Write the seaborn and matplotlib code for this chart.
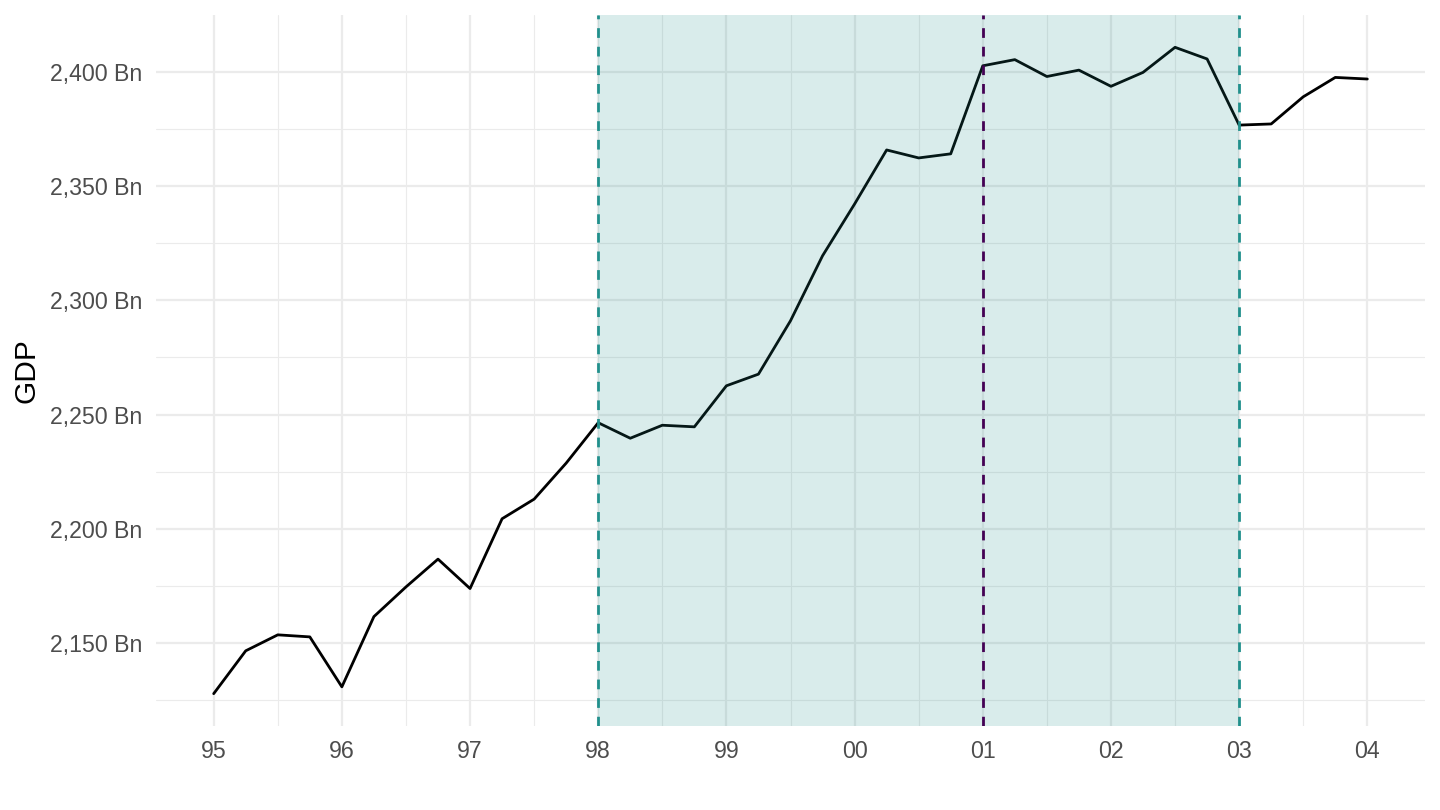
import matplotlib
matplotlib.use("Agg")
import matplotlib.pyplot as plt
import seaborn as sns
import pandas as pd
import numpy as np
from matplotlib.ticker import FixedLocator, FuncFormatter

# Quarterly GDP, 1995Q1 - 2004Q1 (billions)
quarters = [1995 + 0.25 * i for i in range(37)]
gdp = [2127.6, 2146.4, 2153.4, 2152.5, 2130.6, 2161.4, 2174.4, 2186.6,
       2173.7, 2204.3, 2212.9, 2228.7, 2246.4, 2239.6, 2245.3, 2244.6,
       2262.6, 2267.7, 2291.1, 2319.6, 2342.3, 2366.0, 2362.5, 2364.3,
       2402.9, 2405.6, 2398.2, 2401.0, 2393.9, 2400.0, 2411.0, 2405.9,
       2376.9, 2377.4, 2389.3, 2397.8, 2397.1]

shade_start, shade_end = 1998, 2003
vlines_x = [1998, 2001, 2003]
vlines_col = ["#21908C", "#440154", "#21908C"]

year_ticks = list(range(1995, 2005))
year_labels = [f"{y % 100:02d}" for y in year_ticks]
y_ticks = [2150, 2200, 2250, 2300, 2350, 2400]

df = pd.DataFrame({"date": quarters, "GDP": gdp})

sns.set_theme(style="whitegrid")
plt.rcParams["font.family"] = ["Liberation Sans", "DejaVu Sans"]

fig = plt.figure(figsize=(14.4, 8.1), dpi=100)
ax = fig.add_axes([156 / 1440, 84 / 810, (1425 - 156) / 1440, (726 - 15) / 810])
ax.set_facecolor("white")

sns.lineplot(data=df, x="date", y="GDP", color="black", linewidth=2.0, ax=ax, zorder=3)

ax.axvspan(shade_start, shade_end, color="#21908C", alpha=0.17, linewidth=0, zorder=4)
for xv, c in zip(vlines_x, vlines_col):
    ax.axvline(xv, color=c, linestyle=(0, (3.5, 3.2)), linewidth=2.0, zorder=5)

# limits with ggplot-like 5% expansion
xr = max(quarters) - min(quarters)
ax.set_xlim(min(quarters) - 0.05 * xr, max(quarters) + 0.05 * xr)
yr = max(gdp) - min(gdp)
ax.set_ylim(min(gdp) - 0.05 * yr, max(gdp) + 0.05 * yr)

ax.xaxis.set_major_locator(FixedLocator(year_ticks))
ax.set_xticklabels(year_labels)
ax.xaxis.set_minor_locator(FixedLocator([y + 0.5 for y in range(1995, 2004)]))
ax.yaxis.set_major_locator(FixedLocator(y_ticks))
ax.yaxis.set_major_formatter(FuncFormatter(lambda v, p: f"{v:,.0f} Bn"))
ax.yaxis.set_minor_locator(FixedLocator(list(range(2125, 2400, 50))))

ax.grid(which="major", color="#ebebeb", linewidth=1.6, zorder=0)
ax.grid(which="minor", color="#ebebeb", linewidth=0.8, zorder=0)
ax.set_axisbelow(True)
for s in ax.spines.values():
    s.set_visible(False)

ax.tick_params(axis="both", which="both", length=0, labelsize=16.7, labelcolor="#4d4d4d")
ax.tick_params(axis="y", pad=10)
ax.tick_params(axis="x", pad=10)
ax.set_xlabel("")
ax.set_ylabel("GDP", fontsize=21.5, color="black", labelpad=7)

fig.savefig("out.png", dpi=100, facecolor="white")
